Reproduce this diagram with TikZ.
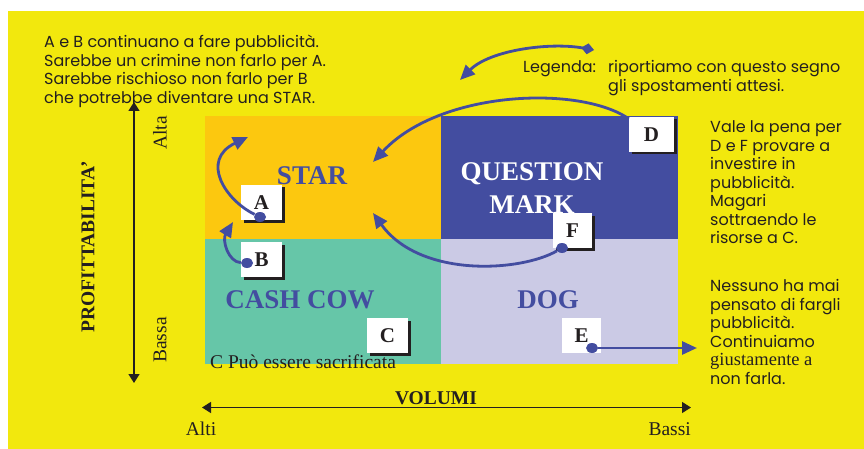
\documentclass[tikz,border=0pt]{standalone}
\usepackage{fontspec}
\setmainfont{Liberation Serif}
\newfontfamily\gothic{Poppins}
\usetikzlibrary{arrows.meta,shadows,shapes.geometric}

\definecolor{bgyellow}{RGB}{242,232,13}
\definecolor{starcol}{RGB}{252,200,15}
\definecolor{qmcol}{RGB}{67,77,160}
\definecolor{cowcol}{RGB}{102,198,168}
\definecolor{dogcol}{RGB}{203,202,229}
\definecolor{inkcol}{RGB}{35,31,32}

\newcommand{\textlines}[1]{\begin{tabular}[t]{@{}l@{}}#1\end{tabular}}

\tikzset{
  sanstext/.style={inner sep=0pt, text=inkcol, font=\gothic\fontsize{16}{18.5}\selectfont},
  seriflabel/.style={inner sep=0pt, text=inkcol, font=\fontsize{19.5}{22}\selectfont},
  quadlabel/.style={inner sep=0pt, text=qmcol, font=\bfseries\fontsize{27}{33}\selectfont},
  letterbox/.style={fill=white, inner sep=0pt, minimum width=41pt, minimum height=35pt,
    text=inkcol, font=\bfseries\fontsize{21}{21}\selectfont},
  shadowbox/.style={letterbox, drop shadow={shadow xshift=2.5pt, shadow yshift=-2.5pt, opacity=1, fill=inkcol}},
  dot/.style={ellipse, fill=qmcol, inner sep=0pt, minimum width=12pt, minimum height=10pt},
  move/.style={draw=qmcol, line width=2.8pt, -{Triangle[length=15pt,width=13pt]}},
  axis/.style={draw=inkcol, line width=1.4pt, {Triangle[length=9pt,width=11pt]}-{Triangle[length=9pt,width=11pt]}}
}

\begin{document}
\begin{tikzpicture}[x=1pt,y=-1pt]
\useasboundingbox (0,0) rectangle (864,449);
\fill[bgyellow] (8,11) rectangle (864,449);
\fill[starcol] (205,116) rectangle (441,239);
\fill[qmcol] (441,116) rectangle (678,239);
\fill[cowcol] (205,239) rectangle (441,364);
\fill[dogcol] (441,239) rectangle (678,364);

\node (note) [sanstext, anchor=base west] at (44,48) {\textlines{A e B continuano a fare pubblicità.\\
Sarebbe un crimine non farlo per A.\\ Sarebbe rischioso non farlo per B\\ che potrebbe diventare una STAR.}};
\node (legend) [sanstext, anchor=base west] at (523,73) {\textlines{\makebox[85pt][l]{Legenda:}riportiamo con questo segno\\ \hspace*{85pt}gli spostamenti attesi.}};
\node (worth) [sanstext, anchor=base west] at (710,133) {\textlines{Vale la pena per\\ D e F provare a\\ investire in\\ pubblicità.\\ Magari\\ sottraendo le\\ risorse a C.}};
\node (never) [sanstext, anchor=base west] at (710,291.7) {\textlines{Nessuno ha mai\\ pensato di fargli\\ pubblicità.\\ Continuiamo\\ {\rmfamily\fontsize{18.5}{18.5}\selectfont giustamente a}\\ non farla.}};

\node (star) [quadlabel] at (312,176) {STAR};
\node (qmark) [quadlabel, text=white, align=center] at (532,188) {QUESTION\\ MARK};
\node (cow) [quadlabel] at (300,300) {CASH COW};
\node (dog) [quadlabel] at (548,300) {DOG};

\coordinate (ytop) at (134,102);
\coordinate (ybot) at (134,383);
\coordinate (xleft) at (202,407.5);
\coordinate (xright) at (691,407.5);
\draw[axis] (ytop) -- (ybot);
\draw[axis] (xleft) -- (xright);
\node (prof) [seriflabel, font=\bfseries\fontsize{19.5}{22}\selectfont, rotate=90] at (88,247) {PROFITTABILITA’};
\node (alta) [seriflabel, rotate=90] at (160,133) {Alta};
\node (bassa) [seriflabel, rotate=90] at (160,340) {Bassa};
\node (volumi) [seriflabel, font=\bfseries\fontsize{19.5}{22}\selectfont, anchor=base] at (436,404) {VOLUMI};
\node (alti) [seriflabel, anchor=base] at (201,435) {Alti};
\node (bassi) [seriflabel, anchor=base east] at (691,435) {Bassi};
\node (sacrif) [seriflabel, anchor=base west] at (210,368) {C Può essere sacrificata};

\node (A) [shadowbox] at (261.5,202.5) {A};
\node (B) [shadowbox] at (261.5,259.5) {B};
\node (C) [shadowbox] at (387.5,335.5) {C};
\node (D) [shadowbox, minimum width=45pt] at (651.5,134.5) {D};
\node (E) [letterbox, minimum width=39pt] at (581.5,335.5) {E};
\node (F) [shadowbox, minimum width=39pt] at (572.5,230.5) {F};

\node (Adot) [dot] at (260,217) {};
\node (Bdot) [dot] at (247,263) {};
\node (Edot) [dot] at (592,348) {};
\node (Fdot) [dot] at (562,248) {};
\coordinate (Aend) at (248,137);
\coordinate (Bend) at (233,222);
\coordinate (Dend) at (373,162);
\coordinate (Eend) at (697,348);
\coordinate (Fend) at (373,213);
\coordinate (legstart) at (594,50);
\coordinate (legend) at (460,80);

\draw[move] (Adot) .. controls (225,200) and (200,160) .. (Aend);
\draw[move] (Bdot) .. controls (228,262) and (222,240) .. (Bend);
\draw[move] (D) .. controls (580,85) and (440,90) .. (Dend);
\draw[move] (Fdot) .. controls (520,272) and (420,278) .. (Fend);
\draw[move] (Edot) -- (Eend);
\draw[move, {Diamond[length=13pt,width=11pt]}-{Triangle[length=15pt,width=13pt]}] (legstart) .. controls (550,42) and (490,50) .. (legend);
\end{tikzpicture}
\end{document}
